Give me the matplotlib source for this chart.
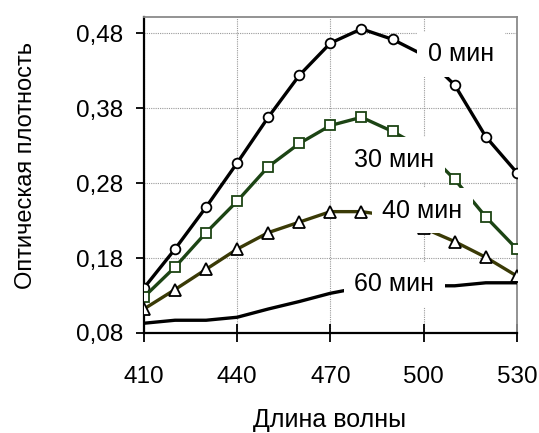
import numpy as np
import matplotlib
matplotlib.use("Agg")
from matplotlib import pyplot as plt

plt.rcParams['font.family'] = ['Liberation Sans', 'DejaVu Sans']

# wavelengths, nm
wl = [410, 420, 430, 440, 450, 460, 470, 480, 490, 500, 510, 520, 530]
# optical density for each exposure time
od_0 = [0.140, 0.192, 0.248, 0.307, 0.368, 0.424, 0.467, 0.486, 0.472, 0.451, 0.411, 0.342, 0.294]
od_30 = [0.128, 0.168, 0.214, 0.256, 0.302, 0.333, 0.357, 0.368, 0.349, 0.326, 0.285, 0.235, 0.192]
od_40 = [0.112, 0.138, 0.165, 0.192, 0.214, 0.228, 0.242, 0.242, 0.236, 0.220, 0.202, 0.181, 0.156]
od_60 = [0.093, 0.097, 0.097, 0.101, 0.112, 0.122, 0.133, 0.141, 0.143, 0.143, 0.143, 0.147, 0.147]

labels = ['0 мин', '30 мин', '40 мин', '60 мин']
label_pos = [(512, 0.452), (490.5, 0.311), (499.5, 0.243), (490.5, 0.145)]

xticks = [410, 440, 470, 500, 530]
yticks = [0.08, 0.18, 0.28, 0.38, 0.48]
ytick_labels = ['0,08', '0,18', '0,28', '0,38', '0,48']

fig = plt.figure(figsize=(5.39, 4.33), dpi=100)
ax = fig.add_axes([0.267, 0.231, 0.692, 0.730])

ax.plot(wl, od_0, color='black', lw=2.4, marker='o', ms=7,
        mfc='white', mec='black', mew=1.3, zorder=3)
ax.plot(wl, od_30, color='#1c4414', lw=2.4, marker='s', ms=7,
        mfc='white', mec='#1c4414', mew=1.3, zorder=3)
ax.plot(wl, od_40, color='#3a3a06', lw=2.4, marker='^', ms=8,
        mfc='white', mec='black', mew=1.3, zorder=3)
ax.plot(wl, od_60, color='black', lw=2.4, zorder=3)

for txt, (x, y) in zip(labels, label_pos):
    ax.text(x, y, txt, fontsize=18, ha='center', va='center', zorder=5,
            bbox=dict(boxstyle='square,pad=0.42', fc='white', ec='none'))

ax.set_xlim(410, 530)
ax.set_ylim(0.08, 0.502)
ax.set_xticks(xticks)
ax.set_xticklabels([str(v) for v in xticks])
ax.set_yticks(yticks)
ax.set_yticklabels(ytick_labels)
ax.tick_params(axis='x', direction='inout', length=13, width=1.3, labelsize=17.5, pad=17)
ax.tick_params(axis='y', direction='out', length=6, width=1.3, labelsize=17.5, pad=9)

ax.grid(True, color='#9a9a9a', linestyle=(0, (1, 1)), lw=0.8)
ax.set_axisbelow(True)

for s in ['left', 'bottom']:
    ax.spines[s].set_color('black')
    ax.spines[s].set_linewidth(1.6)
for s in ['top', 'right']:
    ax.spines[s].set_color('#8a8a8a')
    ax.spines[s].set_linewidth(1.3)

fig.text(0.612, 0.030, 'Длина волны', fontsize=18, ha='center', va='center')
fig.text(0.048, 0.617, 'Оптическая плотность', fontsize=17, ha='center',
         va='center', rotation=90)

fig.savefig('out.png', dpi=100)
